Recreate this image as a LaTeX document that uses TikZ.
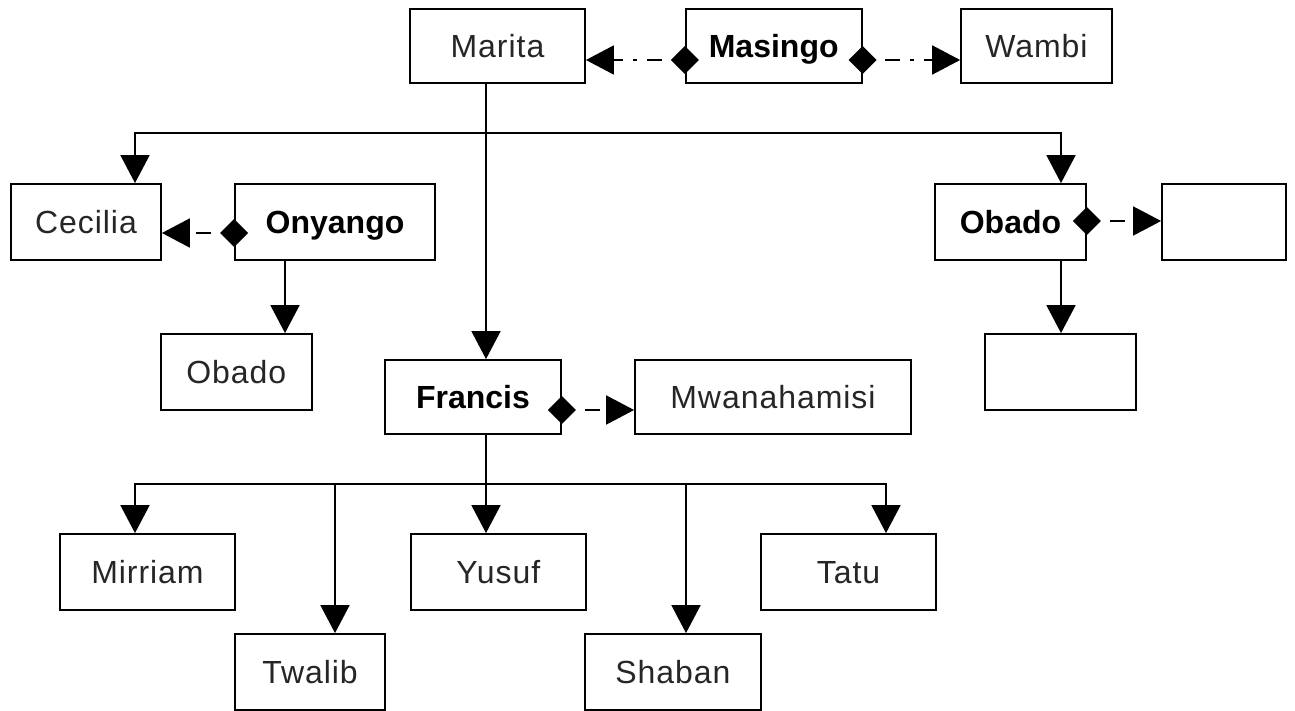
\documentclass[tikz,border=0pt]{standalone}
\usepackage{fontspec}
\setmainfont{Liberation Sans}
\newfontfamily\regf{Liberation Sans}[LetterSpace=3]
\usetikzlibrary{arrows.meta}
\tikzset{
  box/.style={draw, line width=1.8pt, inner sep=0pt, text height=23pt, text depth=0pt,
    font=\regf\fontsize{32}{38}\selectfont, text=black!85},
  bbox/.style={box, font=\bfseries\fontsize{32}{38}\selectfont, text=black},
  plainln/.style={line width=1.8pt},
  tree/.style={line width=1.8pt, -{Triangle[length=28pt,width=29pt]}},
  rel/.style={line width=1.8pt, dash pattern=on 15pt off 10pt on 4pt off 10pt, dash phase=29pt,
    {Diamond[length=28pt,width=28pt]}-{Triangle[length=28pt,width=29pt]}, shorten <=-14pt}
}
\begin{document}
\begin{tikzpicture}[x=1pt,y=-1pt]
\fill[white] (0,0) rectangle (1295,711);
\useasboundingbox (0,0) rectangle (1295,711);
% top row
\node[box, minimum width=175pt, minimum height=74pt] (marita) at (497.5,46.3) {Marita};
\node[bbox, minimum width=176pt, minimum height=74pt] (masingo) at (773.7,46.3) {Masingo};
\node[box, minimum width=150.7pt, minimum height=74pt] (wambi) at (1036.4,46.3) {Wambi};
% second row
\node[box, minimum width=150pt, minimum height=76pt] (cecilia) at (86,222) {Cecilia};
\node[bbox, minimum width=200pt, minimum height=76pt] (onyango) at (335,222) {Onyango};
\node[bbox, minimum width=151pt, minimum height=76pt] (obado) at (1010.5,222) {Obado};
\node[box, minimum width=124pt, minimum height=76pt] (empty1) at (1224,222) {};
% third row
\node[box, minimum width=150.7pt, minimum height=76pt] (obadoL) at (236.3,372) {Obado};
\node[box, minimum width=150.7pt, minimum height=76pt] (empty2) at (1060.3,372) {};
\node[bbox, minimum width=176pt, minimum height=74pt] (francis) at (473,397) {Francis};
\node[box, minimum width=276pt, minimum height=74pt] (mwana) at (773,397) {Mwanahamisi};
% children of Francis
\node[box, minimum width=175pt, minimum height=76pt] (mirriam) at (147.5,572) {Mirriam};
\node[box, minimum width=174.7pt, minimum height=76pt] (yusuf) at (498.3,572) {Yusuf};
\node[box, minimum width=175pt, minimum height=76pt] (tatu) at (848.5,572) {Tatu};
\node[box, minimum width=150pt, minimum height=76pt] (twalib) at (310,672) {Twalib};
\node[box, minimum width=176pt, minimum height=76pt] (shaban) at (673,672) {Shaban};
% junctions
\coordinate (mx) at (486,133);
\coordinate (cx) at (135,133);
\coordinate (ox) at (1061,133);
\coordinate (oy) at (285,260);
\coordinate (fj) at (486,484);
\coordinate (j1) at (135,484);
\coordinate (j2) at (335,484);
\coordinate (j4) at (686,484);
\coordinate (j5) at (886,484);
% tree connectors
\draw[plainln] (marita.south -| mx) -- (mx);
\draw[tree] (mx) -- (francis.north -| mx);
\draw[tree] (mx) -- (cx) -- (cecilia.north -| cx);
\draw[tree] (mx) -- (ox) -- (obado.north -| ox);
\draw[tree] (onyango.south -| oy) -- (obadoL.north -| oy);
\draw[tree] (obado.south -| ox) -- (empty2.north -| ox);
\draw[plainln] (francis.south -| fj) -- (fj);
\draw[tree] (fj) -- (j1) -- (mirriam.north -| j1);
\draw[tree] (fj) -- (j2) -- (twalib.north -| j2);
\draw[tree] (fj) -- (yusuf.north -| fj);
\draw[tree] (fj) -- (j4) -- (shaban.north -| j4);
\draw[tree] (fj) -- (j5) -- (tatu.north -| j5);
% relation connectors
\coordinate (r1) at (0,60);
\coordinate (r2) at (0,233);
\coordinate (r3) at (0,221);
\coordinate (r4) at (0,410);
\draw[rel] (masingo.west |- r1) -- (marita.east |- r1);
\draw[rel] (masingo.east |- r1) -- (wambi.west |- r1);
\draw[rel] (onyango.west |- r2) -- (cecilia.east |- r2);
\draw[rel] (obado.east |- r3) -- (empty1.west |- r3);
\draw[rel] (francis.east |- r4) -- (mwana.west |- r4);
\end{tikzpicture}
\end{document}
